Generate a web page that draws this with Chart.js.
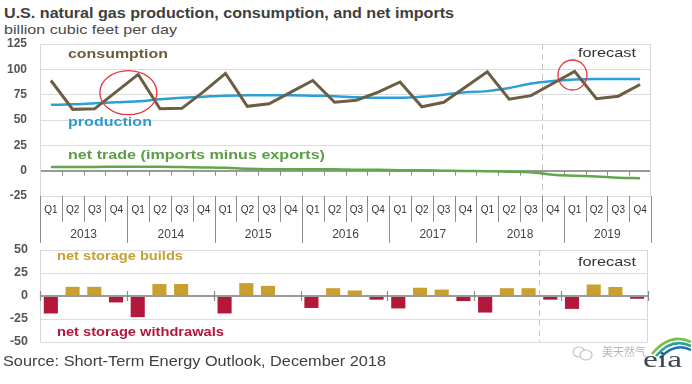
<!DOCTYPE html>
<html>
<head>
<meta charset="utf-8">
<script src="https://cdn.jsdelivr.net/npm/chart.js@4.4.1/dist/chart.umd.min.js"></script>
<style>
  html, body { margin:0; padding:0; background:#fff; }
  body { width:692px; height:384px; position:relative; overflow:hidden; font-family:"Liberation Sans", Arial, sans-serif; }
  .t { position:absolute; white-space:nowrap; line-height:1; transform-origin:0 0; display:inline-block; }
  canvas { position:absolute; left:0; }
</style>
</head>
<body>
<div class="t" id="title" style="left:4px;font-weight:bold;font-size:14px;color:#3e3e3e;" data-w="450" data-b="17.5">U.S. natural gas production, consumption, and net imports</div>
<div class="t" id="subtitle" style="left:4px;font-size:13.5px;color:#4a4a4a;" data-w="173" data-b="34">billion cubic feet per day</div>

<canvas id="top" width="692" height="215" style="top:30px"></canvas>
<canvas id="bottom" width="692" height="115" style="top:238px"></canvas>

<div class="t" style="left:68px;font-weight:bold;font-size:13.5px;color:#6b5c3c;" data-w="100" data-b="58.5">consumption</div>
<div class="t" style="left:68px;font-weight:bold;font-size:13.5px;color:#2a9ad4;" data-w="84" data-b="126">production</div>
<div class="t" style="left:68px;font-weight:bold;font-size:13.5px;color:#5a9e45;" data-w="257" data-b="159">net trade (imports minus exports)</div>
<div class="t" style="left:578px;font-size:13px;color:#333;" data-w="58" data-b="57">forecast</div>

<div class="t" style="left:57px;font-weight:bold;font-size:12.5px;color:#c9a02f;" data-w="126" data-b="261">net storage builds</div>
<div class="t" style="left:57px;font-weight:bold;font-size:12.5px;color:#b3183a;" data-w="167" data-b="336.5">net storage withdrawals</div>
<div class="t" style="left:578px;font-size:13px;color:#333;" data-w="58" data-b="266">forecast</div>

<div class="t" style="left:3px;font-size:14px;color:#404040;" data-w="383" data-b="365.5">Source: Short-Term Energy Outlook, December 2018</div>

<svg style="position:absolute;left:0;top:0" width="692" height="384">
  <ellipse cx="579" cy="352" rx="6" ry="5" fill="none" stroke="#c4c4c4" stroke-width="1.2"/>
  <ellipse cx="586" cy="355" rx="6" ry="5" fill="#fff" stroke="#c4c4c4" stroke-width="1.2"/>
  <path d="M652 354 Q670 332 691 342" fill="none" stroke="#7bbf4e" stroke-width="2.5"/>
  <path d="M656 356 Q672 337 691 346" fill="none" stroke="#27a3a0" stroke-width="2.5"/>
  <path d="M660 358 Q675 342 691 350" fill="none" stroke="#1f6fb0" stroke-width="2.5"/>
</svg>
<div class="t" style="left:602px;font-family:'Noto Sans CJK SC';font-size:11.5px;color:#b4b4b4;" data-w="44" data-b="356">美天然气</div>
<div class="t" style="left:643px;font-family:'Liberation Serif', serif;font-size:24px;color:#3f4852;" data-w="39" data-b="367">eia</div>

<script>
// ---------- data ----------
const years = ['2013','2014','2015','2016','2017','2018','2019'];
const quarterNames = ['Q1','Q2','Q3','Q4'];
const categories = years.flatMap(y => quarterNames.map(q => q + ' ' + y));
const quarterTickLabels = years.flatMap(() => quarterNames);

const consumption = [89, 60.5, 61, 78, 95, 61, 61.5, 78, 96, 63.5, 66, 77.5,
                     89, 67.5, 69.5, 77.5, 87.5, 63, 67.5, 82.5, 97.5, 70.5, 74, 86,
                     98, 71, 73.5, 85];
const production  = [65, 65.5, 66.5, 67.5, 68.5, 70.5, 72, 73, 74, 74.5, 74.5, 74.5,
                     74, 73.5, 72.5, 72, 72, 73, 75, 77.5, 78.5, 81.5, 86, 88.5,
                     90, 90.5, 90.5, 90.5];
const netTrade    = [3.7, 3.7, 3.7, 3.8, 3.8, 3.8, 3.5, 3.2, 2.8, 1.8, 1.5, 1.5,
                     1.5, 1.5, 1, 0.8, 0.5, 0.3, 0, -0.3, -0.5, -1, -1.5, -4,
                     -5, -5.8, -7, -7.5];
const storage     = [-19, 10, 10, -7, -23, 13, 13, 0, -19, 14, 11, 0,
                     -13, 8.5, 6, -4, -13.5, 9, 7, -5.5, -18, 8.5, 8.5, -4,
                     -14, 12.5, 9.8, -3];
const forecastStartIndex = 23; // 2018 Q4
const highlightPoints = [ {index: 3.55, value: 77}, {index: 23.9, value: 94.4} ];

// ---------- text fitting ----------
document.querySelectorAll('.t').forEach(el => {
  const fs = parseFloat(el.style.fontSize);
  const b = parseFloat(el.dataset.b);
  el.style.top = (b - 0.85 * fs) + 'px';
  const w = el.getBoundingClientRect().width;
  const target = parseFloat(el.dataset.w);
  if (target && w) el.style.transform = 'scaleX(' + (target / w) + ')';
});

Chart.defaults.font.family = '"Liberation Sans", Arial, sans-serif';

function boundaryFn(chart) {
  const a = chart.chartArea, x = chart.scales.x, N = categories.length;
  return k => k <= 0 ? a.left : k >= N ? a.right : (x.getPixelForValue(k - 1) + x.getPixelForValue(k)) / 2;
}
function seg(ctx, x1, y1, x2, y2) { ctx.beginPath(); ctx.moveTo(x1, y1); ctx.lineTo(x2, y2); ctx.stroke(); }

const topDecor = {
  id: 'topDecor',
  beforeDatasetsDraw(chart) {
    const { ctx, chartArea: a, scales: { y } } = chart;
    const bx = boundaryFn(chart), N = categories.length;
    ctx.save();
    ctx.lineWidth = 1;
    ctx.strokeStyle = '#d6d6d6';
    seg(ctx, a.left + 0.5, a.top, a.left + 0.5, a.bottom);
    seg(ctx, a.right - 0.5, a.top, a.right - 0.5, a.bottom);
    ctx.setLineDash([6, 4]);
    ctx.strokeStyle = '#c4c4c4';
    seg(ctx, Math.round(bx(forecastStartIndex)) + 0.5, a.top, Math.round(bx(forecastStartIndex)) + 0.5, a.bottom);
    ctx.setLineDash([]);
    const y0 = y.getPixelForValue(0);
    ctx.strokeStyle = '#8c8c8c';
    for (let k = 1; k < N; k++) seg(ctx, Math.round(bx(k)) + 0.5, y0, Math.round(bx(k)) + 0.5, y0 + 5);
    for (let k = 0; k <= N; k++) {
      const len = (k % 4 === 0) ? 47 : 26;
      const xx = Math.round(bx(k)) + 0.5;
      seg(ctx, xx, a.bottom, xx, a.bottom + len);
    }
    ctx.restore();
  },
  afterDatasetsDraw(chart) {
    const { ctx, scales: { x, y } } = chart;
    const step = x.getPixelForValue(1) - x.getPixelForValue(0);
    ctx.save();
    ctx.strokeStyle = '#e0353d';
    ctx.lineWidth = 1.3;
    const sizes = [[28.5, 22], [14.5, 15]];
    highlightPoints.forEach((p, i) => {
      const cx = x.getPixelForValue(0) + p.index * step;
      const cy = y.getPixelForValue(p.value);
      ctx.beginPath();
      ctx.ellipse(cx, cy, sizes[i][0], sizes[i][1], 0, 0, Math.PI * 2);
      ctx.stroke();
    });
    ctx.restore();
  }
};

new Chart(document.getElementById('top'), {
  type: 'line',
  data: {
    labels: categories,
    datasets: [
      { data: consumption, borderColor: '#6b5e42', borderWidth: 3, pointRadius: 0, tension: 0 },
      { data: production, borderColor: '#2c9fd9', borderWidth: 2.5, pointRadius: 0, cubicInterpolationMode: 'monotone' },
      { data: netTrade, borderColor: '#62a84a', borderWidth: 2.5, pointRadius: 0, cubicInterpolationMode: 'monotone' }
    ]
  },
  options: {
    responsive: false, animation: false,
    layout: { padding: { top: 14, right: 41, left: 0, bottom: 0 } },
    plugins: { legend: { display: false }, tooltip: { enabled: false } },
    scales: {
      x: {
        offset: true,
        grid: { display: false, drawTicks: false }, border: { display: false },
        ticks: { autoSkip: false, maxRotation: 0, minRotation: 0, font: { size: 10 }, color: '#333', padding: 8,
                 callback: (v, i) => quarterTickLabels[i] },
        afterFit(s) { s.height = 26; }
      },
      x2: {
        type: 'category', labels: years, position: 'bottom', offset: true,
        grid: { display: false, drawTicks: false }, border: { display: false },
        ticks: { autoSkip: false, maxRotation: 0, font: { size: 12 }, color: '#444', padding: 5 },
        afterFit(s) { s.height = 23; }
      },
      y: {
        min: -25, max: 125,
        ticks: { stepSize: 25, font: { size: 12, weight: 'bold' }, color: '#555', padding: 13 },
        grid: { drawTicks: false,
                color: c => c.tick && c.tick.value === 0 ? '#9a9a9a' : '#dcdcdc',
                lineWidth: c => c.tick && c.tick.value === 0 ? 2 : 1 },
        border: { display: false },
        afterFit(s) { s.width = 40; s.paddingTop = 0; s.paddingBottom = 0; }
      }
    }
  },
  plugins: [topDecor]
});

const bottomDecor = {
  id: 'bottomDecor',
  beforeDatasetsDraw(chart) {
    const { ctx, chartArea: a } = chart;
    const bx = boundaryFn(chart);
    ctx.save();
    ctx.lineWidth = 1;
    ctx.strokeStyle = '#d6d6d6';
    seg(ctx, a.left + 0.5, a.top, a.left + 0.5, a.bottom);
    seg(ctx, a.right - 0.5, a.top, a.right - 0.5, a.bottom);
    ctx.setLineDash([6, 4]);
    ctx.strokeStyle = '#c4c4c4';
    seg(ctx, Math.round(bx(forecastStartIndex)) + 0.5, a.top, Math.round(bx(forecastStartIndex)) + 0.5, a.bottom);
    ctx.restore();
  },
  afterDatasetsDraw(chart) {
    const { ctx, chartArea: a, scales: { y } } = chart;
    const bx = boundaryFn(chart), N = categories.length;
    const y0 = y.getPixelForValue(0);
    ctx.save();
    ctx.strokeStyle = '#9a9a9a';
    ctx.lineWidth = 2;
    seg(ctx, a.left, y0, a.right, y0);
    ctx.lineWidth = 1.2;
    ctx.strokeStyle = '#8c8c8c';
    for (let k = 0; k <= N; k += 4) seg(ctx, Math.round(bx(k)) + 0.5, y0 - 5, Math.round(bx(k)) + 0.5, y0 + 5);
    ctx.restore();
  }
};

new Chart(document.getElementById('bottom'), {
  type: 'bar',
  data: {
    labels: categories,
    datasets: [{
      data: storage,
      backgroundColor: c => (c.raw >= 0 ? '#c9a02f' : '#b3183a'),
      categoryPercentage: 0.65, barPercentage: 1
    }]
  },
  options: {
    responsive: false, animation: false,
    layout: { padding: { top: 12, right: 44, left: 0, bottom: 11 } },
    plugins: { legend: { display: false }, tooltip: { enabled: false } },
    scales: {
      x: { display: false, offset: true },
      y: {
        min: -50, max: 50,
        ticks: { stepSize: 25, font: { size: 12.5, weight: 'bold' }, color: '#555', padding: 12 },
        grid: { drawTicks: false,
                color: c => c.tick && c.tick.value === 0 ? '#9a9a9a' : '#dcdcdc',
                lineWidth: c => c.tick && c.tick.value === 0 ? 2 : 1 },
        border: { display: false },
        afterFit(s) { s.width = 40; s.paddingTop = 0; s.paddingBottom = 0; }
      }
    }
  },
  plugins: [bottomDecor]
});
</script>
</body>
</html>
